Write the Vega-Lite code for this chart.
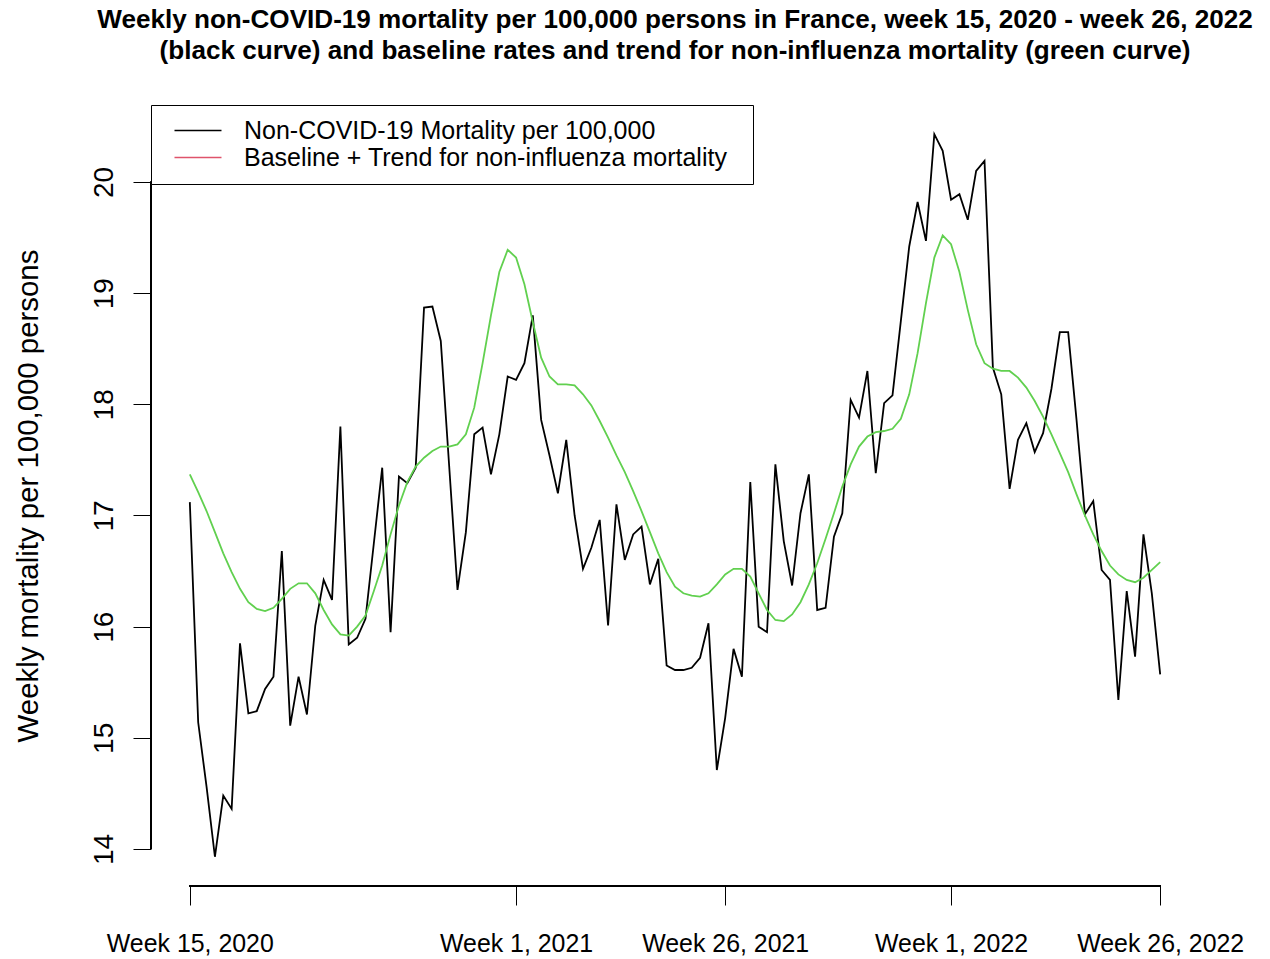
{
  "$schema": "https://vega.github.io/schema/vega-lite/v6.json",
  "autosize": {"type": "none"},
  "padding": {"left": 151, "top": 105, "right": 71, "bottom": 73},
  "width": 1048,
  "height": 781,
  "background": "white",
  "title": {
    "text": ["Weekly non-COVID-19 mortality per 100,000 persons in France, week 15, 2020 - week 26, 2022", "(black curve) and baseline rates and trend for non-influenza mortality (green curve)"],
    "font": "Liberation Sans",
    "fontSize": 26.1,
    "fontWeight": "bold",
    "color": "black",
    "lineHeight": 31,
    "anchor": "middle",
    "frame": "group",
    "offset": 40
  },
  "config": {
    "view": {"stroke": null},
    "font": "Liberation Sans"
  },
  "data": {
    "values": [
      {"i": 0, "mortality": 17.12, "baseline": 17.37},
      {"i": 1, "mortality": 15.14, "baseline": 17.21},
      {"i": 2, "mortality": 14.56, "baseline": 17.04},
      {"i": 3, "mortality": 13.93, "baseline": 16.85},
      {"i": 4, "mortality": 14.48, "baseline": 16.66},
      {"i": 5, "mortality": 14.36, "baseline": 16.49},
      {"i": 6, "mortality": 15.85, "baseline": 16.34},
      {"i": 7, "mortality": 15.22, "baseline": 16.22},
      {"i": 8, "mortality": 15.24, "baseline": 16.16},
      {"i": 9, "mortality": 15.44, "baseline": 16.14},
      {"i": 10, "mortality": 15.55, "baseline": 16.17},
      {"i": 11, "mortality": 16.68, "baseline": 16.25},
      {"i": 12, "mortality": 15.11, "baseline": 16.34},
      {"i": 13, "mortality": 15.55, "baseline": 16.39},
      {"i": 14, "mortality": 15.21, "baseline": 16.39},
      {"i": 15, "mortality": 16.01, "baseline": 16.30},
      {"i": 16, "mortality": 16.42, "baseline": 16.15},
      {"i": 17, "mortality": 16.24, "baseline": 16.02},
      {"i": 18, "mortality": 17.80, "baseline": 15.93},
      {"i": 19, "mortality": 15.84, "baseline": 15.92},
      {"i": 20, "mortality": 15.90, "baseline": 16.00},
      {"i": 21, "mortality": 16.07, "baseline": 16.10},
      {"i": 22, "mortality": 16.75, "baseline": 16.32},
      {"i": 23, "mortality": 17.43, "baseline": 16.55},
      {"i": 24, "mortality": 15.95, "baseline": 16.83},
      {"i": 25, "mortality": 17.35, "baseline": 17.09},
      {"i": 26, "mortality": 17.29, "baseline": 17.30},
      {"i": 27, "mortality": 17.43, "baseline": 17.44},
      {"i": 28, "mortality": 18.87, "baseline": 17.52},
      {"i": 29, "mortality": 18.88, "baseline": 17.58},
      {"i": 30, "mortality": 18.57, "baseline": 17.62},
      {"i": 31, "mortality": 17.45, "baseline": 17.62},
      {"i": 32, "mortality": 16.33, "baseline": 17.64},
      {"i": 33, "mortality": 16.85, "baseline": 17.73},
      {"i": 34, "mortality": 17.73, "baseline": 17.97},
      {"i": 35, "mortality": 17.79, "baseline": 18.37},
      {"i": 36, "mortality": 17.37, "baseline": 18.80},
      {"i": 37, "mortality": 17.73, "baseline": 19.19},
      {"i": 38, "mortality": 18.25, "baseline": 19.39},
      {"i": 39, "mortality": 18.22, "baseline": 19.32},
      {"i": 40, "mortality": 18.37, "baseline": 19.08},
      {"i": 41, "mortality": 18.80, "baseline": 18.74},
      {"i": 42, "mortality": 17.86, "baseline": 18.42},
      {"i": 43, "mortality": 17.54, "baseline": 18.25},
      {"i": 44, "mortality": 17.20, "baseline": 18.18},
      {"i": 45, "mortality": 17.68, "baseline": 18.18},
      {"i": 46, "mortality": 17.00, "baseline": 18.17},
      {"i": 47, "mortality": 16.52, "baseline": 18.09},
      {"i": 48, "mortality": 16.71, "baseline": 17.99},
      {"i": 49, "mortality": 16.96, "baseline": 17.85},
      {"i": 50, "mortality": 16.01, "baseline": 17.70},
      {"i": 51, "mortality": 17.10, "baseline": 17.54},
      {"i": 52, "mortality": 16.60, "baseline": 17.39},
      {"i": 53, "mortality": 16.83, "baseline": 17.22},
      {"i": 54, "mortality": 16.90, "baseline": 17.04},
      {"i": 55, "mortality": 16.38, "baseline": 16.85},
      {"i": 56, "mortality": 16.61, "baseline": 16.66},
      {"i": 57, "mortality": 15.65, "baseline": 16.49},
      {"i": 58, "mortality": 15.61, "baseline": 16.36},
      {"i": 59, "mortality": 15.61, "baseline": 16.30},
      {"i": 60, "mortality": 15.63, "baseline": 16.28},
      {"i": 61, "mortality": 15.72, "baseline": 16.27},
      {"i": 62, "mortality": 16.03, "baseline": 16.30},
      {"i": 63, "mortality": 14.71, "baseline": 16.38},
      {"i": 64, "mortality": 15.18, "baseline": 16.47},
      {"i": 65, "mortality": 15.80, "baseline": 16.52},
      {"i": 66, "mortality": 15.55, "baseline": 16.52},
      {"i": 67, "mortality": 17.30, "baseline": 16.45},
      {"i": 68, "mortality": 16.00, "baseline": 16.30},
      {"i": 69, "mortality": 15.95, "baseline": 16.15},
      {"i": 70, "mortality": 17.46, "baseline": 16.06},
      {"i": 71, "mortality": 16.77, "baseline": 16.05},
      {"i": 72, "mortality": 16.37, "baseline": 16.11},
      {"i": 73, "mortality": 17.02, "baseline": 16.22},
      {"i": 74, "mortality": 17.37, "baseline": 16.38},
      {"i": 75, "mortality": 16.15, "baseline": 16.57},
      {"i": 76, "mortality": 16.17, "baseline": 16.79},
      {"i": 77, "mortality": 16.81, "baseline": 17.02},
      {"i": 78, "mortality": 17.02, "baseline": 17.26},
      {"i": 79, "mortality": 18.04, "baseline": 17.46},
      {"i": 80, "mortality": 17.88, "baseline": 17.62},
      {"i": 81, "mortality": 18.30, "baseline": 17.71},
      {"i": 82, "mortality": 17.38, "baseline": 17.75},
      {"i": 83, "mortality": 18.01, "baseline": 17.76},
      {"i": 84, "mortality": 18.08, "baseline": 17.78},
      {"i": 85, "mortality": 18.75, "baseline": 17.87},
      {"i": 86, "mortality": 19.42, "baseline": 18.09},
      {"i": 87, "mortality": 19.82, "baseline": 18.46},
      {"i": 88, "mortality": 19.47, "baseline": 18.91},
      {"i": 89, "mortality": 20.43, "baseline": 19.32},
      {"i": 90, "mortality": 20.28, "baseline": 19.52},
      {"i": 91, "mortality": 19.84, "baseline": 19.44},
      {"i": 92, "mortality": 19.89, "baseline": 19.19},
      {"i": 93, "mortality": 19.66, "baseline": 18.85},
      {"i": 94, "mortality": 20.10, "baseline": 18.54},
      {"i": 95, "mortality": 20.19, "baseline": 18.37},
      {"i": 96, "mortality": 18.33, "baseline": 18.32},
      {"i": 97, "mortality": 18.09, "baseline": 18.30},
      {"i": 98, "mortality": 17.24, "baseline": 18.30},
      {"i": 99, "mortality": 17.68, "baseline": 18.24},
      {"i": 100, "mortality": 17.83, "baseline": 18.15},
      {"i": 101, "mortality": 17.57, "baseline": 18.03},
      {"i": 102, "mortality": 17.74, "baseline": 17.89},
      {"i": 103, "mortality": 18.14, "baseline": 17.73},
      {"i": 104, "mortality": 18.65, "baseline": 17.56},
      {"i": 105, "mortality": 18.65, "baseline": 17.39},
      {"i": 106, "mortality": 17.86, "baseline": 17.19},
      {"i": 107, "mortality": 17.01, "baseline": 17.00},
      {"i": 108, "mortality": 17.13, "baseline": 16.83},
      {"i": 109, "mortality": 16.51, "baseline": 16.68},
      {"i": 110, "mortality": 16.42, "baseline": 16.55},
      {"i": 111, "mortality": 15.34, "baseline": 16.47},
      {"i": 112, "mortality": 16.32, "baseline": 16.42},
      {"i": 113, "mortality": 15.73, "baseline": 16.40},
      {"i": 114, "mortality": 16.83, "baseline": 16.44},
      {"i": 115, "mortality": 16.30, "baseline": 16.51},
      {"i": 116, "mortality": 15.57, "baseline": 16.58}
    ]
  },
  "layer": [
    {
      "mark": {"type": "line", "strokeWidth": 1.8},
      "encoding": {
        "x": {
          "field": "i", "type": "quantitative",
          "scale": {"domain": [-4.64, 120.64], "nice": false, "zero": false},
          "axis": {
            "values": [0, 39, 64, 91, 116],
            "labelExpr": "datum.value == 0 ? 'Week 15, 2020' : datum.value == 39 ? 'Week 1, 2021' : datum.value == 64 ? 'Week 26, 2021' : datum.value == 91 ? 'Week 1, 2022' : 'Week 26, 2022'",
            "title": null,
            "domain": false,
            "grid": false,
            "tickSize": 19,
            "tickColor": "black",
            "tickWidth": 1,
            "labelFont": "Liberation Sans",
            "labelFontSize": 24.9,
            "labelColor": "black",
            "labelBaseline": "alphabetic",
            "labelAlign": "center",
            "labelPadding": 46,
            "labelOverlap": false,
            "labelFlush": false
          }
        },
        "y": {
          "field": "mortality", "type": "quantitative",
          "scale": {"domain": [13.667, 20.6925], "nice": false, "zero": false},
          "axis": {
            "values": [14, 15, 16, 17, 18, 19, 20],
            "format": "d",
            "title": "Weekly mortality per 100,000 persons",
            "titleFont": "Liberation Sans",
            "titleFontSize": 29.4,
            "titleFontWeight": "normal",
            "titleColor": "black",
            "titleAngle": -90,
            "titleAlign": "center",
            "titleBaseline": "alphabetic",
            "titleX": -113.6,
            "titleY": 390.5,
            "domain": false,
            "grid": false,
            "tickSize": 18,
            "tickColor": "black",
            "tickWidth": 1,
            "labelFont": "Liberation Sans",
            "labelFontSize": 28,
            "labelColor": "black",
            "labelAngle": -90,
            "labelAlign": "center",
            "labelBaseline": "alphabetic",
            "labelPadding": 21,
            "labelOverlap": false,
            "labelFlush": false
          }
        },
        "color": {
          "datum": "Non-COVID-19 Mortality per 100,000",
          "type": "nominal",
          "scale": {
            "domain": ["Non-COVID-19 Mortality per 100,000", "Baseline + Trend for non-influenza mortality"],
            "range": ["#000000", "#DF536B"]
          },
          "legend": {
            "orient": "none",
            "legendX": 0,
            "legendY": 0,
            "title": " ",
            "titleOrient": "right",
            "titleFontSize": 2,
            "titlePadding": 13,
            "strokeColor": "black",
            "fillColor": "white",
            "padding": 13,
            "symbolType": "M-0.34,0H7.66",
            "symbolSize": 138,
            "symbolStrokeWidth": 1.6,
            "labelOffset": 55,
            "labelFont": "Liberation Sans",
            "labelFontSize": 25,
            "labelColor": "black",
            "labelLimit": 1000,
            "rowPadding": 1
          }
        }
      }
    },
    {
      "mark": {"type": "line", "strokeWidth": 1.8, "color": "#61D04F"},
      "encoding": {
        "x": {"field": "i", "type": "quantitative"},
        "y": {"field": "baseline", "type": "quantitative"}
      }
    },
    {
      "mark": {"type": "rule", "color": "black", "strokeWidth": 1},
      "encoding": {
        "x": {"datum": 0, "type": "quantitative"},
        "x2": {"datum": 116},
        "y": {"datum": 13.667, "type": "quantitative"}
      }
    },
    {
      "mark": {"type": "rule", "color": "black", "strokeWidth": 1},
      "encoding": {
        "x": {"datum": -4.64, "type": "quantitative"},
        "y": {"datum": 14, "type": "quantitative"},
        "y2": {"datum": 20}
      }
    }
  ]
}
